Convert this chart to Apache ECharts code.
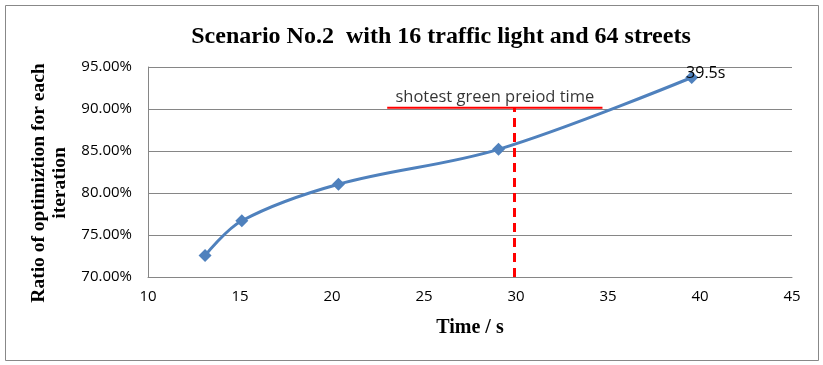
<!DOCTYPE html>
<html>
<head>
<meta charset="utf-8">
<script src="https://cdn.jsdelivr.net/npm/echarts@6/dist/echarts.min.js"></script>
<style>
  html, body { margin: 0; padding: 0; background: #fff; }
  #chart { width: 823px; height: 365px; }
</style>
</head>
<body>
<div id="chart"></div>
<script>
// measured points: time (s) vs optimization ratio (%)
const times = [13.1, 15.1, 20.35, 29.05, 39.55];
const ratios = [72.55, 76.7, 81.05, 85.2, 93.75];
const lastLabel = '39.5s';

// shortest green period marker
const greenLineX = [23.0, 34.7];
const greenLineY = 90.15;
const greenTime = 29.9;
const greenText = 'shotest green preiod time';

const xTicks = { min: 10, max: 45, interval: 5 };
const yTicks = { min: 70, max: 95, interval: 5 };

const chart = echarts.init(document.getElementById('chart'));

const points = times.map((t, i) => [t, ratios[i]]);

chart.setOption({
  backgroundColor: '#fff',
  animation: false,
  title: {
    text: 'Scenario No.2  with 16 traffic light and 64 streets',
    left: 436,
    textAlign: 'center',
    top: 20,
    textStyle: {
      fontFamily: 'Liberation Serif',
      fontWeight: 'bold',
      fontSize: 24,
      color: '#000',
    },
  },
  graphic: [
    {
      type: 'rect',
      shape: { x: 5.5, y: 5.5, width: 813, height: 355 },
      style: { fill: 'none', stroke: '#888', lineWidth: 1 },
      silent: true,
    },
  ],
  grid: { left: 148, right: 31, top: 67, bottom: 88 },
  xAxis: {
    type: 'value',
    min: xTicks.min,
    max: xTicks.max,
    interval: xTicks.interval,
    name: 'Time / s',
    nameLocation: 'middle',
    nameGap: 41,
    nameTextStyle: {
      fontFamily: 'Liberation Serif',
      fontWeight: 'bold',
      fontSize: 20,
      color: '#000',
    },
    axisLine: { lineStyle: { color: '#868686', width: 1 } },
    axisTick: { show: false },
    splitLine: { show: false },
    axisLabel: {
      fontFamily: 'Open Sans',
      fontSize: 15,
      color: '#000',
      margin: 12,
    },
  },
  yAxis: {
    type: 'value',
    min: yTicks.min,
    max: yTicks.max,
    interval: yTicks.interval,
    name: 'Ratio of optimiztion for each\niteration',
    nameLocation: 'middle',
    nameRotate: 90,
    nameGap: 78,
    nameTextStyle: {
      fontFamily: 'Liberation Serif',
      fontWeight: 'bold',
      fontSize: 19.5,
      lineHeight: 21,
      color: '#000',
      padding: [0, 22, 0, 0],
    },
    axisLine: { show: true, lineStyle: { color: '#868686', width: 1 } },
    axisTick: { show: false },
    splitLine: { lineStyle: { color: '#868686', width: 1 } },
    axisLabel: {
      fontFamily: 'Open Sans',
      fontSize: 15,
      color: '#000',
      margin: 16,
      formatter: (v) => v.toFixed(2) + '%',
    },
  },
  series: [
    {
      type: 'line',
      data: points,
      smooth: 0.35,
      symbol: 'diamond',
      symbolSize: 13,
      lineStyle: { color: '#4F81BD', width: 3 },
      itemStyle: { color: '#4F81BD' },
      label: {
        show: true,
        formatter: (p) => (p.dataIndex === times.length - 1 ? lastLabel : ''),
        position: 'inside',
        offset: [14, -4],
        fontFamily: 'Open Sans',
        fontSize: 16,
        color: '#000',
      },
      z: 3,
    },
    {
      type: 'line',
      data: greenLineX.map((x) => [x, greenLineY]),
      symbol: 'none',
      lineStyle: { color: '#FF0000', width: 2 },
      markLine: {
        silent: true,
        symbol: 'none',
        label: { show: false },
        lineStyle: { color: '#FF0000', width: 3, type: [9, 6] },
        data: [[{ coord: [greenTime, yTicks.min] }, { coord: [greenTime, greenLineY] }]],
      },
      z: 2,
    },
    {
      type: 'scatter',
      data: [[(greenLineX[0] + greenLineX[1]) / 2, greenLineY]],
      symbolSize: 0,
      label: {
        show: true,
        formatter: greenText,
        position: 'top',
        distance: 2,
        fontFamily: 'Open Sans',
        fontSize: 16.5,
        color: '#000',
      },
    },
  ],
});
</script>
</body>
</html>
